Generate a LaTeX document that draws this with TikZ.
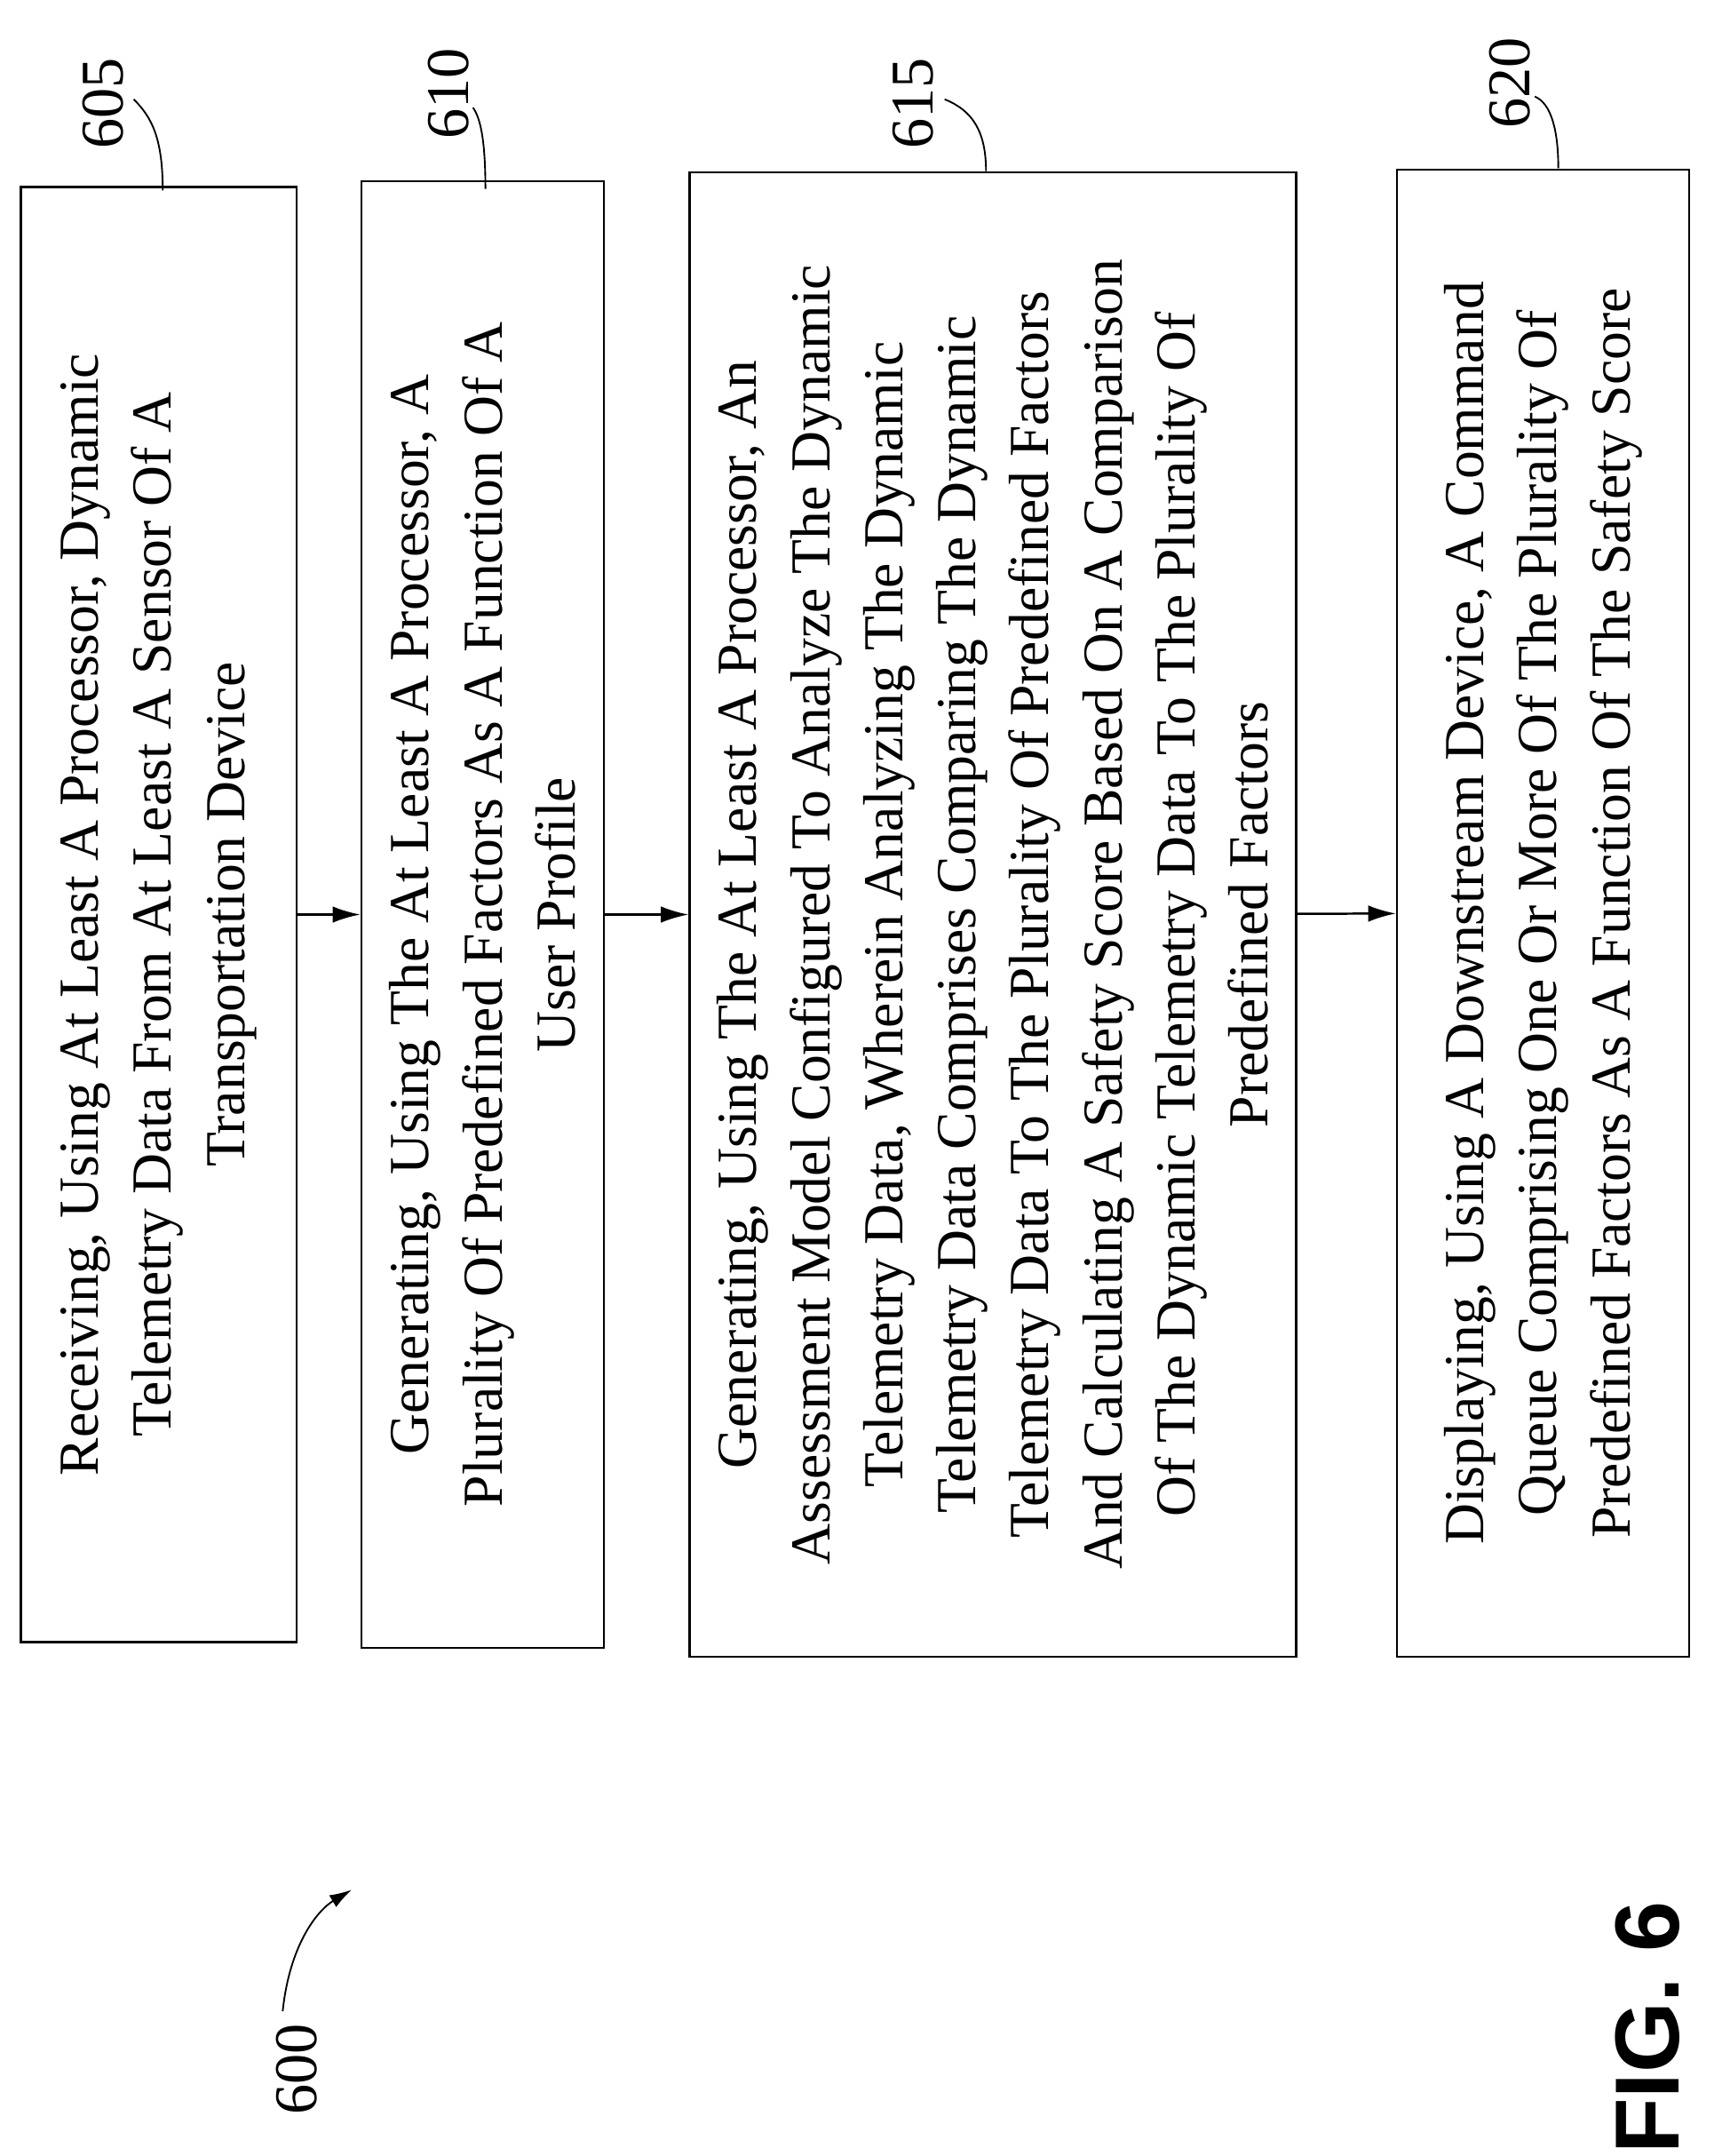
\documentclass[tikz,border=0pt]{standalone}
\usepackage{fontspec}
\setmainfont{Liberation Serif}
\setsansfont{Liberation Sans}
\begin{document}
\begin{tikzpicture}[x=1pt,y=-1pt,
  box/.style={draw,line width=1.6pt,rotate=90,align=center,inner sep=0pt,
    font=\fontsize{41}{53}\selectfont},
  lbl/.style={rotate=90,font=\fontsize{44}{44}\selectfont},
  lead/.style={line width=1.2pt},
  arr/.style={line width=1.6pt,-{Latex[length=20pt,width=12pt]}}]
\useasboundingbox (0,0) rectangle (1254,1563);
\usetikzlibrary{arrows.meta}
\node[box,minimum width=1055pt,minimum height=200pt] (b1) at (115,663)
 {Receiving, Using At Least A Processor, Dynamic\\Telemetry Data From At Least A Sensor Of A\\Transportation Device};
\node[box,minimum width=1063pt,minimum height=176pt] (b2) at (350,663)
 {Generating, Using The At Least A Processor, A\\Plurality Of Predefined Factors As A Function Of A\\User Profile};
\node[box,minimum width=1076pt,minimum height=440pt] (b3) at (720,663)
 {Generating, Using The At Least A Processor, An\\Assessment Model Configured To Analyze The Dynamic\\Telemetry Data, Wherein Analyzing The Dynamic\\Telemetry Data Comprises Comparing The Dynamic\\Telemetry Data To The Plurality Of Predefined Factors\\And Calculating A Safety Score Based On A Comparison\\Of The Dynamic Telemetry Data To The Plurality Of\\Predefined Factors};
\node[box,minimum width=1078pt,minimum height=212pt] (b4) at (1119,662)
 {Displaying, Using A Downstream Device, A Command\\Queue Comprising One Or More Of The Plurality Of\\Predefined Factors As A Function Of The Safety Score};
\draw[arr] (b1) -- (b2);
\draw[arr] (b2) -- (b3);
\draw[arr] (b3) -- (b4);
\node[lbl] (l605) at (75,75) {605};
\node[lbl] (l610) at (325,68) {610};
\node[lbl] (l615) at (662,75) {615};
\node[lbl] (l620) at (1095,60) {620};
\coordinate (t1) at (118,138);
\coordinate (t2) at (352,137);
\coordinate (t3) at (715,124);
\coordinate (t4) at (1130,122);
\draw[lead] (t1) .. controls (118,100) and (110,85) .. (97,72);
\draw[lead] (t2) .. controls (352,100) and (348,85) .. (343,78);
\draw[lead] (t3) .. controls (715,95) and (705,80) .. (685,72);
\draw[lead] (t4) .. controls (1130,95) and (1125,75) .. (1113,70);
\node[lbl] (l600) at (215,1500) {600};
\coordinate (a600) at (255,1370);
\draw[line width=1.2pt,-{Latex[length=16pt,width=10pt]}] (205,1458) .. controls (210,1410) and (230,1385) .. (a600);
\node[rotate=90,font=\sffamily\bfseries\fontsize{66}{66}\selectfont] (fig) at (1195,1470) {FIG. 6};
\end{tikzpicture}
\end{document}
